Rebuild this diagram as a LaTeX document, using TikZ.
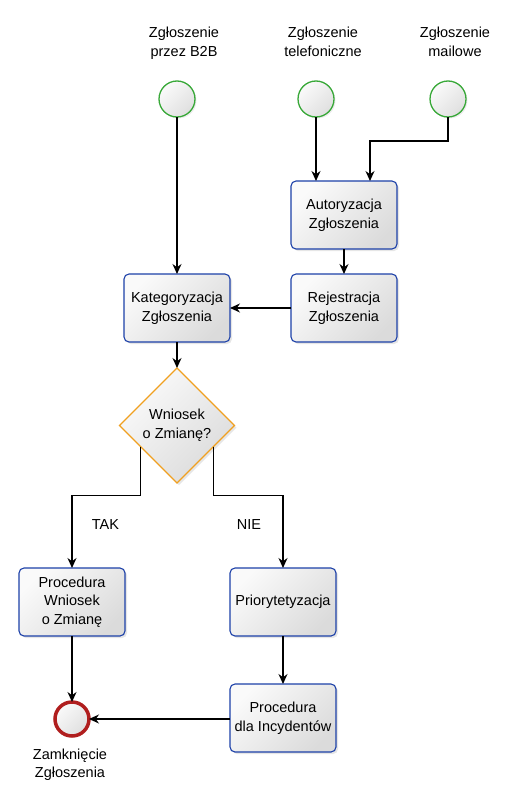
\documentclass[tikz,border=0pt]{standalone}
\usepackage{fontspec}
\setmainfont{Liberation Sans}
\usetikzlibrary{arrows.meta, shapes, shadows}
\usetikzlibrary{positioning}
\definecolor{startgreen}{HTML}{38A838}
\definecolor{boxblue}{HTML}{1C40A8}
\definecolor{decorange}{HTML}{F0A020}
\definecolor{endred}{HTML}{B01E1E}

\begin{document}
\begin{tikzpicture}[->,>={Stealth[length=10pt,width=9pt]},line width=1.2pt,x=1pt,y=-1pt,
  font=\fontsize{14.5pt}{18.5pt}\selectfont,
  box node/.style={rectangle,rounded corners=5pt,draw=boxblue,line width=1.1pt,shading=axis,top color=gray!4,bottom color=gray!28,shading angle=45,drop shadow={shadow xshift=2pt,shadow yshift=-2pt,opacity=0.2},minimum width=106pt,minimum height=68pt,align=center,inner sep=2pt,outer sep=0pt},
  start node/.style={circle,draw=startgreen,line width=1.3pt,shading=axis,top color=gray!4,bottom color=gray!25,shading angle=45,drop shadow={shadow xshift=1.5pt,shadow yshift=-1.5pt,opacity=0.15},minimum size=36pt,inner sep=0pt,outer sep=0pt},
  end node/.style={circle,draw=endred,line width=3.5pt,shading=axis,top color=gray!4,bottom color=gray!25,shading angle=45,minimum size=34pt,inner sep=0pt,outer sep=0pt},
  decision node/.style={diamond,draw=decorange,line width=1.2pt,shading=axis,top color=gray!4,bottom color=gray!28,shading angle=45,drop shadow={shadow xshift=2pt,shadow yshift=-2pt,opacity=0.2},minimum width=115pt,minimum height=115pt,align=center,inner sep=0pt,outer sep=0pt},
  label node/.style={align=center,inner sep=0pt}]
				\useasboundingbox (0,0) rectangle (511,803);
				
				% Zdarzenia startowe
				\node[start node] (b2b) at (177,99) {};
				\node[start node, right=103pt of b2b] (tel) {};
				\node[start node, right=96pt of tel] (mail) {};
				\node[label node, above=21pt of b2b, xshift=7pt] (b2bl) {Zgłoszenie\\ przez B2B};
				\node[label node, above=24pt of tel, xshift=7pt] (tell) {Zgłoszenie\\telefoniczne};
				\node[label node, above=24pt of mail, xshift=7pt] (maill) {Zgłoszenie\\ mailowe};
				
				% Zadania
				\node[box node, below=157pt of b2b] (kat) {Kategoryzacja\\Zgłoszenia};
				\node[box node, right=61pt of kat] (rej) {Rejestracja\\Zgłoszenia};
				\node[box node, above=25pt of rej] (aut) {Autoryzacja\\Zgłoszenia};
				\node[decision node, below=26pt of kat] (dec) {Wniosek\\o Zmianę?};
				\node[box node, below=85pt of dec, xshift=-105pt] (pw) {Procedura\\Wniosek\\o Zmianę};
				\node[box node, right=105pt of pw] (pri) {Priorytetyzacja};
				\node[box node, below=48pt of pri] (inc) {Procedura\\dla Incydentów};
				
				% Zdarzenie końcowe
				\node[end node, below=66pt of pw] (end) {};
				\node[label node, below=12pt of end, xshift=-2pt] (endl) {Zamknięcie\\ Zgłoszenia};
				
				% Przepływ
				\draw (b2b) -- (kat);
				\draw (tel) -- (tel |- aut.north);
				\draw (mail.south) -- ++(0,24) -| ([xshift=26pt]aut.north);
				\draw (aut) -- (rej);
				\draw (rej) -- (kat);
				\draw (kat) -- (dec);
				\draw (dec.210) -- ++(0,49) -| node[pos=0.7, right=16pt] {TAK} (pw.north);
				\draw (dec.330) -- ++(0,49) -| node[pos=0.7, left=18pt] {NIE} (pri.north);
				\draw (pw) -- (end);
				\draw (pri) -- (inc);
				\draw (inc.west |- end) -- (end);
			\end{tikzpicture}
\end{document}
